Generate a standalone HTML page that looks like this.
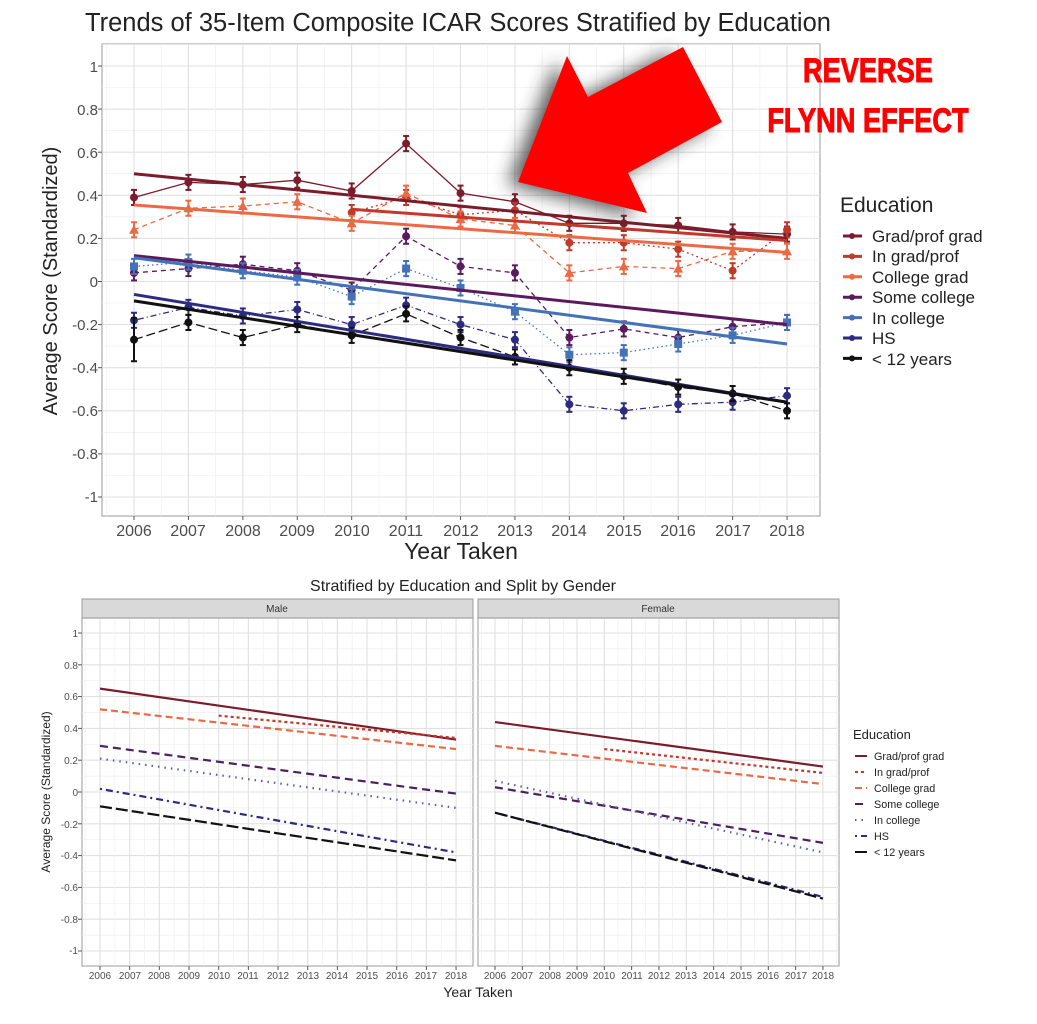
<!DOCTYPE html>
<html><head><meta charset="utf-8"><style>
html,body{margin:0;padding:0;background:#fff;}
svg{display:block;font-family:"Liberation Sans",Arial,sans-serif;}
</style></head><body>
<svg id="s" width="1037" height="1024" viewBox="0 0 1037 1024" xmlns="http://www.w3.org/2000/svg">
<rect width="1037" height="1024" fill="#fff"/>
<g id="grid"></g>
<g id="series"></g>
<text x="85" y="31" font-size="25.5" fill="#222">Trends of 35-Item Composite ICAR Scores Stratified by Education</text>
<g font-size="15" fill="#4d4d4d" text-anchor="end">
<text x="98" y="72">1</text><text x="98" y="115">0.8</text><text x="98" y="158">0.6</text><text x="98" y="201">0.4</text><text x="98" y="244">0.2</text><text x="98" y="287">0</text><text x="98" y="330">-0.2</text><text x="98" y="373">-0.4</text><text x="98" y="416">-0.6</text><text x="98" y="459">-0.8</text><text x="98" y="502">-1</text>
</g>
<g font-size="16" fill="#4d4d4d" text-anchor="middle">
<text x="134" y="536">2006</text><text x="188" y="536">2007</text><text x="243" y="536">2008</text><text x="297" y="536">2009</text><text x="352" y="536">2010</text><text x="406" y="536">2011</text><text x="461" y="536">2012</text><text x="515" y="536">2013</text><text x="569" y="536">2014</text><text x="624" y="536">2015</text><text x="678" y="536">2016</text><text x="733" y="536">2017</text><text x="787" y="536">2018</text>
</g>
<text x="461" y="559" font-size="23" fill="#222" text-anchor="middle">Year Taken</text>
<text transform="translate(57,281) rotate(-90)" font-size="20" fill="#222" text-anchor="middle">Average Score (Standardized)</text>
<text x="840" y="212" font-size="21" fill="#222">Education</text>
<g font-size="17" fill="#222">
<text x="872" y="242">Grad/prof grad</text><text x="872" y="262">In grad/prof</text><text x="872" y="283">College grad</text><text x="872" y="303">Some college</text><text x="872" y="324">In college</text><text x="872" y="344">HS</text><text x="872" y="365">&lt; 12 years</text>
</g>
<g id="arrowg"></g>
<text x="868" y="82" font-size="34" font-weight="bold" fill="#f00" stroke="#f00" stroke-width="1" text-anchor="middle" transform="translate(868,0) scale(0.8,1) translate(-868,0)">REVERSE</text>
<text x="868" y="132" font-size="34" font-weight="bold" fill="#f00" stroke="#f00" stroke-width="1" text-anchor="middle" transform="translate(868,0) scale(0.8,1) translate(-868,0)">FLYNN EFFECT</text>
<text x="463" y="591" font-size="16" fill="#222" text-anchor="middle">Stratified by Education and Split by Gender</text>
<rect x="82" y="599" width="391" height="19" fill="#d9d9d9" stroke="#999" stroke-width="1"/>
<rect x="478" y="599" width="361" height="19" fill="#d9d9d9" stroke="#999" stroke-width="1"/>
<text x="277" y="612" font-size="10" fill="#333" text-anchor="middle">Male</text>
<text x="658" y="612" font-size="10" fill="#333" text-anchor="middle">Female</text>
<g font-size="10" fill="#4d4d4d" text-anchor="end">
<text x="78" y="637">1</text><text x="78" y="669">0.8</text><text x="78" y="700">0.6</text><text x="78" y="732">0.4</text><text x="78" y="764">0.2</text><text x="78" y="796">0</text><text x="78" y="828">-0.2</text><text x="78" y="859">-0.4</text><text x="78" y="891">-0.6</text><text x="78" y="923">-0.8</text><text x="78" y="954">-1</text>
</g>
<g font-size="10" fill="#4d4d4d" text-anchor="middle">
<text x="100" y="979">2006</text><text x="130" y="979">2007</text><text x="159" y="979">2008</text><text x="189" y="979">2009</text><text x="219" y="979">2010</text><text x="248" y="979">2011</text><text x="278" y="979">2012</text><text x="308" y="979">2013</text><text x="337" y="979">2014</text><text x="367" y="979">2015</text><text x="397" y="979">2016</text><text x="426" y="979">2017</text><text x="456" y="979">2018</text>
<text x="495" y="979">2006</text><text x="522" y="979">2007</text><text x="550" y="979">2008</text><text x="577" y="979">2009</text><text x="604" y="979">2010</text><text x="632" y="979">2011</text><text x="659" y="979">2012</text><text x="686" y="979">2013</text><text x="714" y="979">2014</text><text x="741" y="979">2015</text><text x="768" y="979">2016</text><text x="796" y="979">2017</text><text x="823" y="979">2018</text>
</g>
<text x="478" y="997" font-size="14" fill="#222" text-anchor="middle">Year Taken</text>
<text transform="translate(50,792) rotate(-90)" font-size="12" fill="#222" text-anchor="middle">Average Score (Standardized)</text>
<text x="853" y="739" font-size="13" fill="#222">Education</text>
<g font-size="10.8" fill="#222">
<text x="874" y="760">Grad/prof grad</text><text x="874" y="776">In grad/prof</text><text x="874" y="792">College grad</text><text x="874" y="808">Some college</text><text x="874" y="824">In college</text><text x="874" y="840">HS</text><text x="874" y="856">&lt; 12 years</text>
</g>
</svg>
<script>
(function(){
var NS="http://www.w3.org/2000/svg";
function el(p,t,a){var e=document.createElementNS(NS,t);for(var k in a)e.setAttribute(k,a[k]);p.appendChild(e);return e;}
var G=document.getElementById("grid"),S=document.getElementById("series"),A=document.getElementById("arrowg");
function panel(x0,y0,x1,y1,X,Y,yt){
  el(G,"rect",{x:x0,y:y0,width:x1-x0,height:y1-y0,fill:"#fff",stroke:"#aaa","stroke-width":1.2});
  for(var k=-11;k<=11;k++){var v=k/10,y=Y(v);if(y<y0||y>y1)continue;var maj=(Math.abs(k)%2==0);
    el(G,"line",{x1:x0,x2:x1,y1:y,y2:y,stroke:maj?"#e0e0e0":"#efefef","stroke-width":maj?1.1:0.7});}
  for(var j=0;j<=27;j++){var t=2005.5+j*0.5,x=X(t);if(x<x0||x>x1)continue;var maj=(j%2==1);
    el(G,"line",{x1:x,x2:x,y1:y0,y2:y1,stroke:maj?"#e0e0e0":"#efefef","stroke-width":maj?1.1:0.7});
    if(maj)el(G,"line",{x1:x,x2:x,y1:y1,y2:y1+4,stroke:"#555"});}
  if(yt)for(var k=-5;k<=5;k++){var yy=Y(k/5);el(G,"line",{x1:x0-4,x2:x0,y1:yy,y2:yy,stroke:"#555"});}
}
var TX=function(y){return 134+(y-2006)*54.42},TY=function(v){return 281.5-215.5*v};
panel(102,44,820,516,TX,TY,true);
var tp=[
 {c:"#7b1c2c",d:"none",s:2006,v:[.39,.46,.45,.47,.42,.64,.41,.37,.27,.27,.26,.23,.22],t:[.50,.20],m:"c"},
 {c:"#c0392b",d:"2,3",s:2010,v:[.32,.39,.31,.33,.18,.18,.15,.05,.24],t:[.335,.19],m:"c"},
 {c:"#ea6a45",d:"5,4",s:2006,v:[.24,.34,.35,.37,.27,.41,.29,.26,.04,.07,.06,.14,.14],t:[.355,.135],m:"t"},
 {c:"#5b1a5e",d:"5,4",s:2006,v:[.04,.06,.08,.05,-.04,.21,.07,.04,-.26,-.22,-.26,-.21,-.19],t:[.12,-.20],m:"c"},
 {c:"#4472b8",d:"1.5,3",s:2006,v:[.07,.09,.05,.02,-.07,.06,-.03,-.14,-.34,-.33,-.29,-.25,-.19],t:[.11,-.29],m:"s"},
 {c:"#2d2a80",d:"1,3,6,3",s:2006,v:[-.18,-.12,-.16,-.13,-.2,-.11,-.2,-.27,-.57,-.6,-.57,-.56,-.53],t:[-.06,-.56],m:"c"},
 {c:"#111",d:"9,4",s:2006,v:[-.27,-.19,-.26,-.2,-.25,-.15,-.26,-.35,-.4,-.44,-.49,-.52,-.6],t:[-.09,-.56],m:"c"}
];
tp.forEach(function(o){
  var pts=o.v.map(function(v,i){return TX(o.s+i)+","+TY(v)}).join(" ");
  el(S,"polyline",{points:pts,fill:"none",stroke:o.c,"stroke-width":1.3,"stroke-dasharray":o.d});
  o.v.forEach(function(v,i){var x=TX(o.s+i),y=TY(v),e=(i<1&&o.c=="#111")?0.1:0.035;
    el(S,"line",{x1:x,x2:x,y1:TY(v+e),y2:TY(v-e),stroke:o.c,"stroke-width":2});
    el(S,"line",{x1:x-3,x2:x+3,y1:TY(v+e),y2:TY(v+e),stroke:o.c,"stroke-width":2});
    el(S,"line",{x1:x-3,x2:x+3,y1:TY(v-e),y2:TY(v-e),stroke:o.c,"stroke-width":2});
    if(o.m=="s")el(S,"rect",{x:x-4,y:y-4,width:8,height:8,fill:o.c});
    else if(o.m=="t")el(S,"polygon",{points:x+","+(y-5)+" "+(x-5)+","+(y+4)+" "+(x+5)+","+(y+4),fill:o.c});
    else el(S,"circle",{cx:x,cy:y,r:4,fill:o.c});
  });
});
tp.forEach(function(o){el(S,"line",{x1:TX(o.s),x2:TX(2018),y1:TY(o.t[0]),y2:TY(o.t[1]),stroke:o.c,"stroke-width":3});});
tp.forEach(function(o,i){var y=236+i*20.4;el(S,"line",{x1:843,x2:862,y1:y,y2:y,stroke:o.c,"stroke-width":3});el(S,"circle",{cx:852,cy:y,r:3,fill:o.c});});
var MX=function(y){return 100+(y-2006)*29.67},FX=function(y){return 495+(y-2006)*27.33},BY=function(v){return 792-159*v};
panel(82,618,473,966,MX,BY,true);panel(478,618,839,966,FX,BY,false);
var bd=[["#7b1c2c","none"],["#c0392b","3,3"],["#ea6a45","7,4"],["#4b2060","8,5"],["#5b5fa8","1.5,5"],["#2d2a80","2,4,7,4"],["#111","12,4"]];
var male=[[2006,.65,.33],[2010,.48,.34],[2006,.52,.27],[2006,.29,-.01],[2006,.21,-.10],[2006,.02,-.38],[2006,-.09,-.43]];
var fem=[[2006,.44,.16],[2010,.27,.12],[2006,.29,.05],[2006,.03,-.32],[2006,.07,-.38],[2006,-.13,-.66],[2006,-.13,-.67]];
male.forEach(function(m,i){el(S,"line",{x1:MX(m[0]),x2:MX(2018),y1:BY(m[1]),y2:BY(m[2]),stroke:bd[i][0],"stroke-width":2.2,"stroke-dasharray":bd[i][1]});});
fem.forEach(function(m,i){el(S,"line",{x1:FX(m[0]),x2:FX(2018),y1:BY(m[1]),y2:BY(m[2]),stroke:bd[i][0],"stroke-width":2.2,"stroke-dasharray":bd[i][1]});});
bd.forEach(function(b,i){var y=756+i*16;el(S,"line",{x1:855,x2:867,y1:y,y2:y,stroke:b[0],"stroke-width":2,"stroke-dasharray":b[1]});});
var f=el(A,"defs",{});var fl=el(f,"filter",{id:"bl",x:"-30%",y:"-30%",width:"160%",height:"160%"});el(fl,"feGaussianBlur",{stdDeviation:"9"});
el(A,"polygon",{points:"556,62 576,100 670,52 710,126 616,177 635,217 508,184",fill:"#333",opacity:"0.8",filter:"url(#bl)"});
el(A,"polygon",{points:"567,56 588,97 683,47 722,122 628,173 647,213 518,182",fill:"#ff0000"});
document.getElementById("s").appendChild(A);
})();
</script>
</body></html>
